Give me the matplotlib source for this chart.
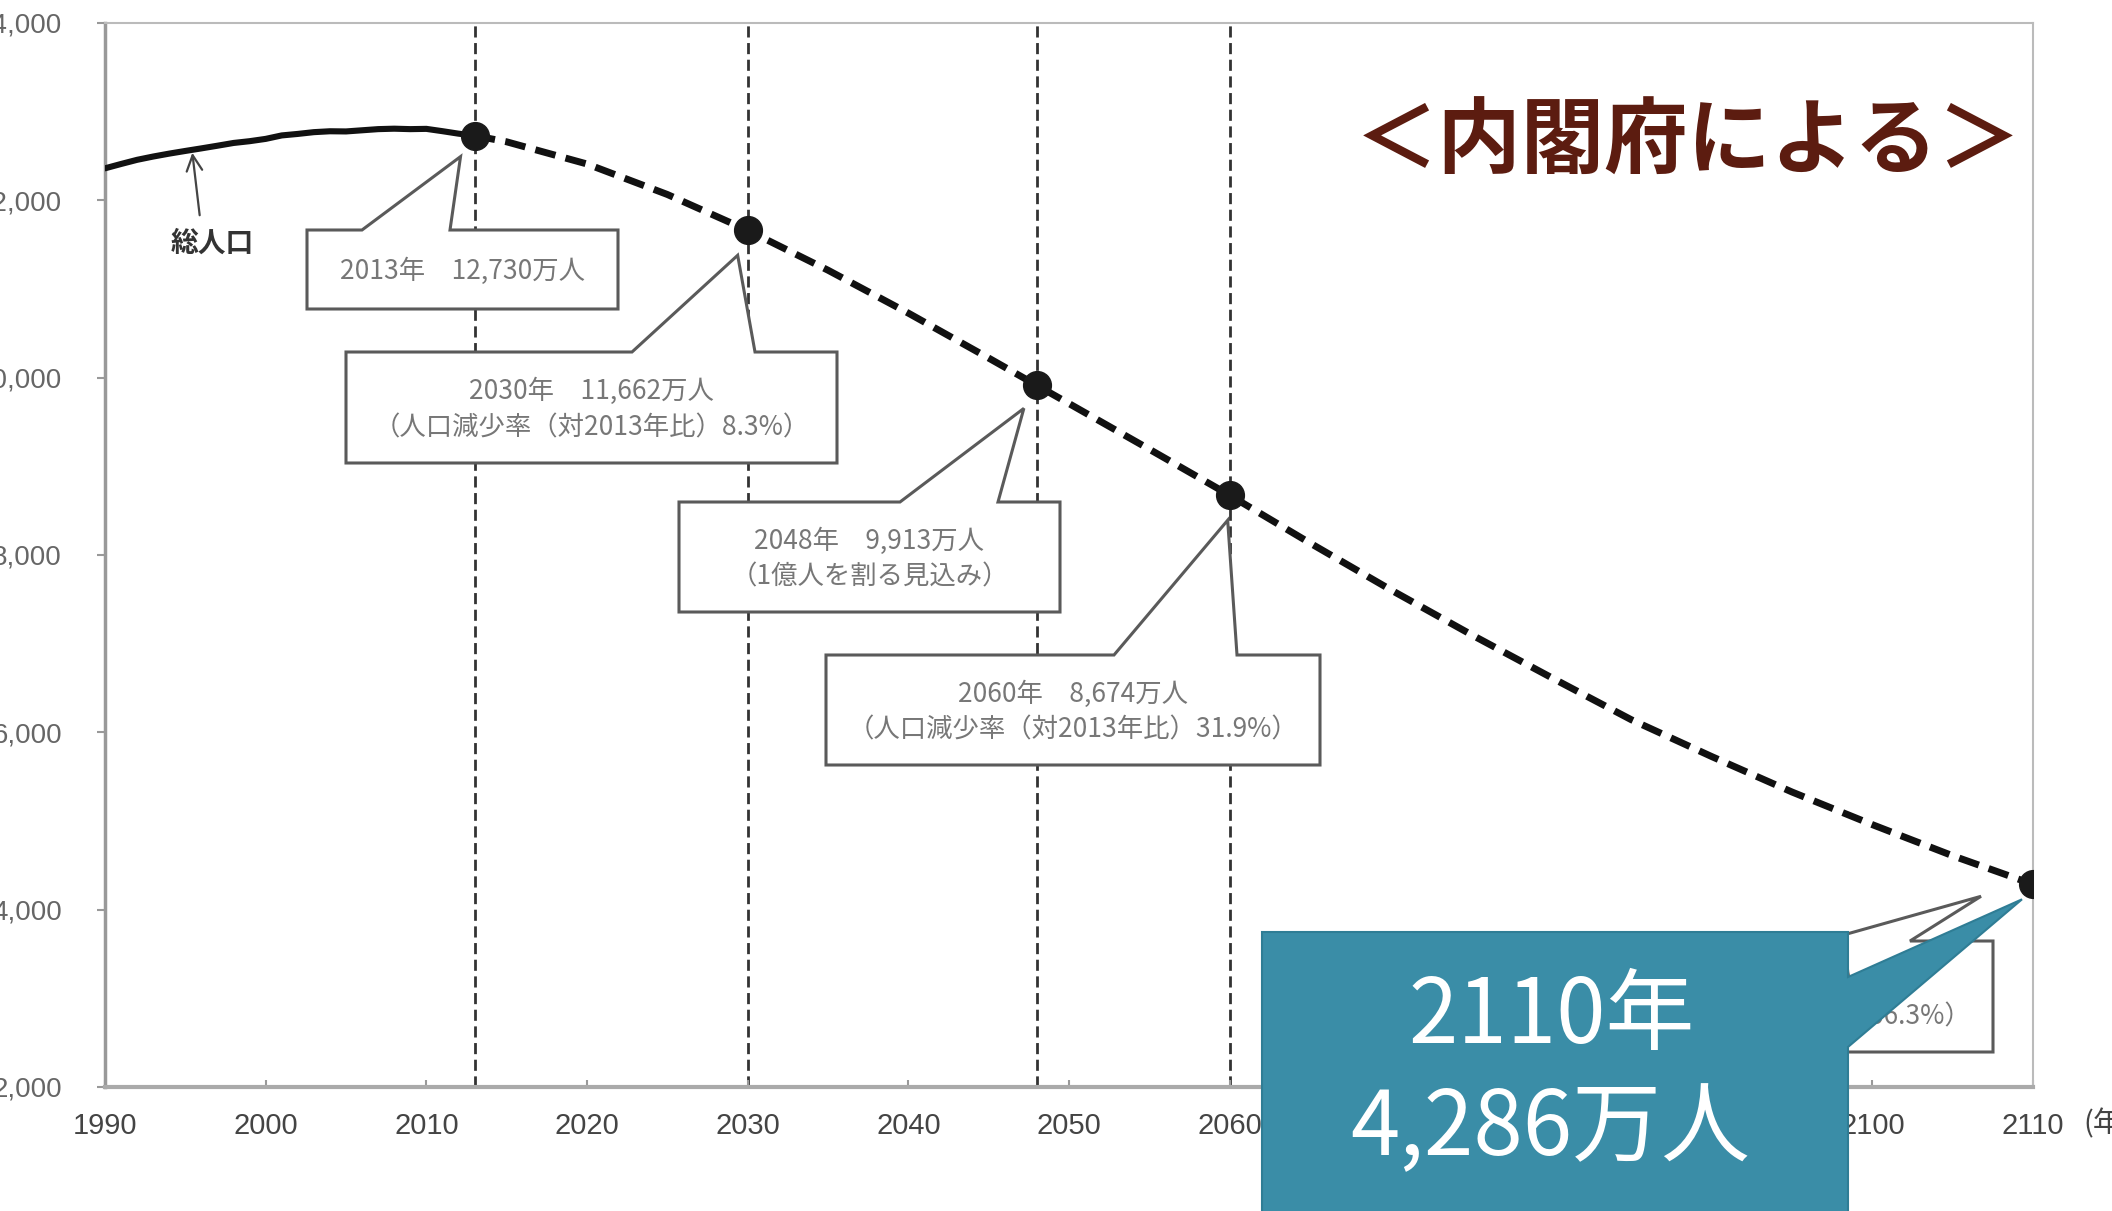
import matplotlib
matplotlib.use("Agg")
import matplotlib.pyplot as plt
from matplotlib.patches import Polygon

plt.rcParams['font.family'] = ['Noto Sans CJK JP', 'DejaVu Sans']

# historical total population (10k people)
hist_years = [1990, 1991, 1992, 1993, 1994, 1995, 1996, 1997, 1998, 1999, 2000,
              2001, 2002, 2003, 2004, 2005, 2006, 2007, 2008, 2009, 2010, 2011,
              2012, 2013]
hist_pop = [12361, 12410, 12457, 12494, 12527, 12557, 12586, 12616, 12647, 12667,
            12693, 12732, 12749, 12769, 12779, 12777, 12790, 12803, 12808, 12803,
            12806, 12780, 12752, 12730]

# projection (dashed)
proj_years = [2013, 2015, 2020, 2025, 2030, 2035, 2040, 2045, 2048, 2050, 2055,
              2060, 2065, 2070, 2075, 2080, 2085, 2090, 2095, 2100, 2105, 2110]
proj_pop = [12730, 12660, 12410, 12066, 11662, 11212, 10728, 10221, 9913, 9708,
            9193, 8674, 8135, 7610, 7106, 6620, 6142, 5727, 5327, 4959, 4608, 4286]

# highlighted points
mark_years = [2013, 2030, 2048, 2060, 2110]
mark_pop = [12730, 11662, 9913, 8674, 4286]
vline_years = [2013, 2030, 2048, 2060]

callout_text = [
    "2013年　12,730万人",
    "2030年　11,662万人\n（人口減少率（対2013年比）8.3%）",
    "2048年　9,913万人\n（1億人を割る見込み）",
    "2060年　8,674万人\n（人口減少率（対2013年比）31.9%）",
    "2110年　4,286万人\n（人口減少率（対2013年比）66.3%）",
]

x_ticks = list(range(1990, 2111, 10))
y_ticks = list(range(2000, 14001, 2000))

W, H = 2112, 1211
fig = plt.figure(figsize=(W / 100, H / 100), dpi=100)
fig.patch.set_facecolor("white")
ax = fig.add_axes([105 / W, 1 - 1087 / H, (2033 - 105) / W, (1087 - 23) / H])


def fpos(x, y):
    # pixel (top-left origin) -> figure fraction
    return (x / W, 1 - y / H)


ax.set_xlim(1990, 2110)
ax.set_ylim(2000, 14000)

for yr in vline_years:
    ax.axvline(yr, color="#333333", lw=2, linestyle=(0, (4, 2)), zorder=1)

ax.plot(hist_years, hist_pop, color="#111111", lw=4.4, solid_capstyle="round", zorder=3)
ax.plot(proj_years, proj_pop, color="#111111", lw=5, linestyle=(0, (3, 1.5)), zorder=3)
ax.plot(mark_years, mark_pop, "o", color="#1a1a1a", markersize=20, zorder=4)

ax.set_xticks(x_ticks)
ax.set_yticks(y_ticks)
ax.set_xticklabels([str(v) for v in x_ticks])
ax.set_yticklabels([f"{v:,}" for v in y_ticks])
ax.tick_params(axis="y", direction="out", length=6, width=1.5, color="#999999",
               labelsize=20, labelcolor="#666666", pad=25)
ax.tick_params(axis="x", direction="in", length=5, width=1.5, color="#999999",
               labelsize=21, labelcolor="#444444", pad=18)
for lbl in ax.get_xticklabels() + ax.get_yticklabels():
    lbl.set_fontfamily("Liberation Sans")

ax.spines["left"].set_color("#999999")
ax.spines["left"].set_linewidth(2.5)
ax.spines["bottom"].set_color("#aaaaaa")
ax.spines["bottom"].set_linewidth(3)
for s in ("top", "right"):
    ax.spines[s].set_color("#bbbbbb")
    ax.spines[s].set_linewidth(1.5)

fig.text(*fpos(2083, 1124), "(年)", fontsize=21, color="#444444", ha="left", va="center")

# total population label with arrow
fig.text(*fpos(212, 244), "総人口", fontsize=20, fontweight="bold", color="#333333",
         ha="center", va="center")
ax.annotate("", xy=fpos(192, 150), xytext=fpos(200, 218), xycoords="figure fraction",
            textcoords="figure fraction",
            arrowprops=dict(arrowstyle="->", lw=1.6, color="#444444", mutation_scale=28))

# title
fig.text(*fpos(1688, 143), "＜内閣府による＞", fontsize=60, fontweight="bold",
         color="#5c1c10", ha="center", va="center")

# callout boxes: left, top, right, bottom, wedge left, wedge right, tip offset
box_layout = [
    (307, 230, 618, 309, 362, 450, (-14, 21)),
    (346, 352, 837, 463, 632, 755, (-10, 25)),
    (679, 502, 1060, 612, 900, 998, (-13, 23)),
    (826, 655, 1320, 765, 1114, 1237, (-2, 25)),
    (1499, 941, 1993, 1052, 1822, 1910, (-52, 12)),
]


def marker_px(year, val):
    dx, dy = ax.transData.transform((year, val))
    return dx, H - dy


for (l, t, r, b, wl, wr, off), yr, val, txt in zip(box_layout, mark_years, mark_pop, callout_text):
    mx, my = marker_px(yr, val)
    tip = (mx + off[0], my + off[1])
    pts = [(l, t), (wl, t), tip, (wr, t), (r, t), (r, b), (l, b)]
    poly = Polygon([fpos(*p) for p in pts], closed=True, transform=fig.transFigure,
                   facecolor="white", edgecolor="#5a5a5a", lw=2.2, joinstyle="miter",
                   zorder=2)
    fig.add_artist(poly)
    fig.text(*fpos((l + r) / 2, (t + b) / 2 + 2), txt, fontsize=19, color="#777777",
             ha="center", va="center", linespacing=1.45, zorder=2.5)

# teal highlight callout
mx, my = marker_px(mark_years[-1], mark_pop[-1])
teal_pts = [(1262, 932), (1848, 932), (1848, 977), (mx - 11, my + 15), (1848, 1047),
            (1848, 1220), (1262, 1220)]
fig.add_artist(Polygon([fpos(*p) for p in teal_pts], closed=True, transform=fig.transFigure,
                       facecolor="#3a8da7", edgecolor="#2f7d95", lw=1.5, zorder=4))
fig.text(*fpos(1552, 1018), "2110年", fontsize=64, color="white", ha="center",
         va="center", zorder=5)
fig.text(*fpos(1550, 1130), "4,286万人", fontsize=64, color="white", ha="center",
         va="center", zorder=5)

fig.savefig("out.png", dpi=100)
